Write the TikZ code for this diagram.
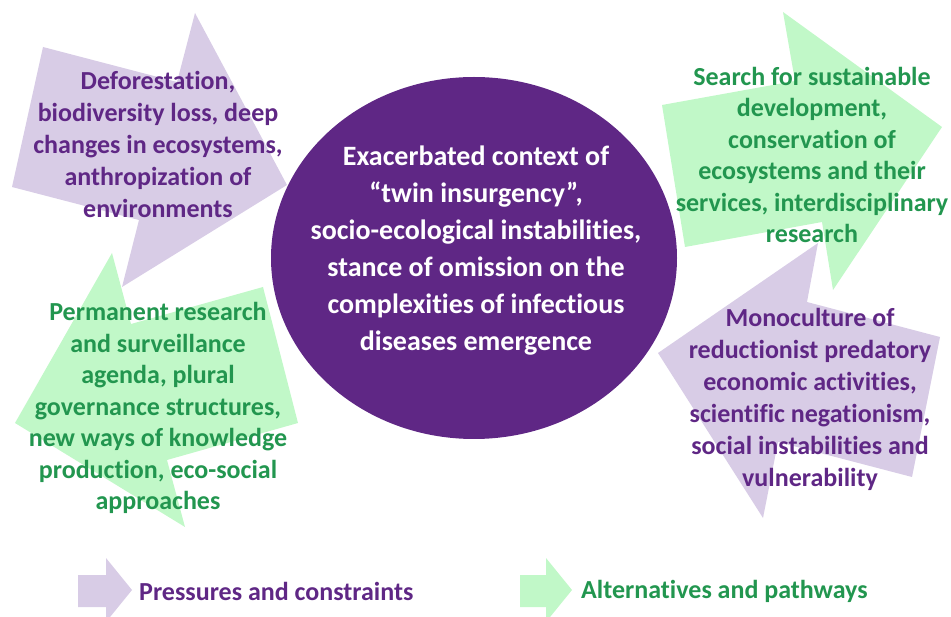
\documentclass[tikz,border=0pt]{standalone}
\usepackage{fontspec}
\setmainfont{Carlito}[Ligatures=NoCommon]
\definecolor{lpurple}{HTML}{D8CCE6}
\definecolor{dpurple}{HTML}{5F2785}
\definecolor{tpurple}{HTML}{5F2785}
\definecolor{lgreen}{HTML}{C1F8C8}
\definecolor{tgreen}{HTML}{22964F}
\tikzset{
  ptxt/.style={align=center, text=tpurple, font=\bfseries\fontsize{26}{32}\selectfont, inner sep=0pt},
  gtxt/.style={align=center, text=tgreen, font=\bfseries\fontsize{26}{31.5}\selectfont, inner sep=0pt},
  ctxt/.style={align=center, text=white, font=\bfseries\fontsize{28}{37}\selectfont, inner sep=0pt},
  legtxt/.style={anchor=west, font=\bfseries\fontsize{26}{30}\selectfont, inner sep=0pt}
}
\begin{document}
\begin{tikzpicture}[x=1pt,y=-1pt]
\useasboundingbox (0,0) rectangle (951,617);
% arrows
\fill[lgreen] (263,287) -- (131,324) -- (112,253) -- (15,423) -- (185,527) -- (167,460) -- (298,423) -- cycle;
\fill[lpurple] (43,47) -- (177,82) -- (195,13) -- (287,185) -- (122,287) -- (139,220) -- (12,187) -- cycle;
\fill[lgreen] (662,105) -- (795,81) -- (783,12) -- (942,127) -- (833,290) -- (822,222) -- (685,247) -- cycle;
\fill[lpurple] (940,337) -- (807,302) -- (818,243) -- (658,353) -- (763,518) -- (778,442) -- (912,477) -- cycle;
% circle
\fill[dpurple] (474,258) ellipse [x radius=203pt, y radius=181pt];
% texts
\node[ptxt] (tl) at (158,144) {Deforestation,\\biodiversity loss, deep\\changes in ecosystems,\\anthropization of\\environments};
\node[gtxt] (bl) at (158,408) {Permanent research\\and surveillance\\agenda, plural\\governance structures,\\new ways of knowledge\\production, eco-social\\approaches};
\node[gtxt] (tr) at (812,155) {Search for sustainable\\development,\\conservation of\\ecosystems and their\\services, interdisciplinary\\research};
\node[ptxt] (br) at (810,399) {Monoculture of\\reductionist predatory\\economic activities,\\scientific negationism,\\social instabilities and\\vulnerability};
\node[ctxt] (c) at (476,251) {Exacerbated context of\\“twin insurgency”,\\socio-ecological instabilities,\\stance of omission on the\\complexities of infectious\\diseases emergence};
% legend
\fill[lpurple] (78,575) -- (106,575) -- (106,558) -- (132,590) -- (106,622) -- (106,607) -- (78,607) -- cycle;
\fill[lgreen] (520,575) -- (546,575) -- (546,558) -- (572,590) -- (546,622) -- (546,607) -- (520,607) -- cycle;
\node[legtxt, text=tpurple] (lp) at (139,591) {Pressures and constraints};
\node[legtxt, text=tgreen] (lg) at (581,591) {Alternatives and pathways};
\end{tikzpicture}
\end{document}
